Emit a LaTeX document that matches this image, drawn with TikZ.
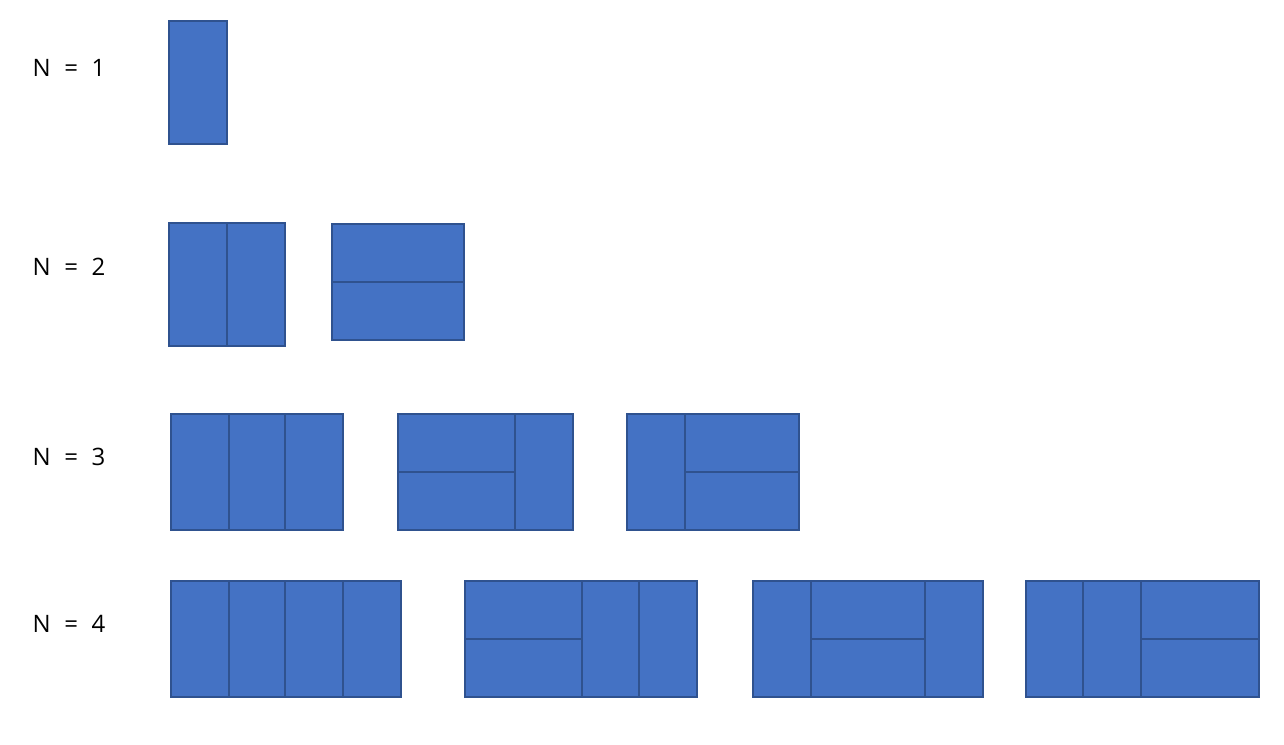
\documentclass[tikz,border=0pt]{standalone}
\usepackage{fontspec}
\setmainfont{Open Sans}[WordSpace=2.2]
\definecolor{cellfill}{HTML}{4472C4}
\definecolor{cellline}{HTML}{2F528F}
\begin{document}
\begin{tikzpicture}[x=1pt,y=-1pt,
  cell/.style={fill=cellfill,draw=cellline,line width=1.6pt},
  div/.style={draw=cellline,line width=1.6pt},
  lbl/.style={font=\fontsize{24}{28}\selectfont,inner sep=0pt}]
\useasboundingbox (0,0) rectangle (1284,744);
% labels
\node[lbl] (l1) at (69,68) {N = 1};
\node[lbl] (l2) at (69,267) {N = 2};
\node[lbl] (l3) at (69,457) {N = 3};
\node[lbl] (l4) at (69,624) {N = 4};
% N=1
\draw[cell] (169,21) rectangle (227,144);
% N=2
\draw[cell] (169,223) rectangle (285,346);
\draw[div] (227,223) -- (227,346);
\draw[cell] (332,224) rectangle (464,340);
\draw[div] (332,282) -- (464,282);
% N=3
\draw[cell] (171,414) rectangle (343,530);
\draw[div] (229,414) -- (229,530);
\draw[div] (285,414) -- (285,530);
\draw[cell] (398,414) rectangle (573,530);
\draw[div] (515,414) -- (515,530);
\draw[div] (398,472) -- (515,472);
\draw[cell] (627,414) rectangle (799,530);
\draw[div] (685,414) -- (685,530);
\draw[div] (685,472) -- (799,472);
% N=4
\draw[cell] (171,581) rectangle (401,697);
\draw[div] (229,581) -- (229,697);
\draw[div] (285,581) -- (285,697);
\draw[div] (343,581) -- (343,697);
\draw[cell] (465,581) rectangle (697,697);
\draw[div] (582,581) -- (582,697);
\draw[div] (639,581) -- (639,697);
\draw[div] (465,639) -- (582,639);
\draw[cell] (753,581) rectangle (983,697);
\draw[div] (811,581) -- (811,697);
\draw[div] (925,581) -- (925,697);
\draw[div] (811,639) -- (925,639);
\draw[cell] (1026,581) rectangle (1259,697);
\draw[div] (1083,581) -- (1083,697);
\draw[div] (1141,581) -- (1141,697);
\draw[div] (1141,639) -- (1259,639);
\end{tikzpicture}
\end{document}
